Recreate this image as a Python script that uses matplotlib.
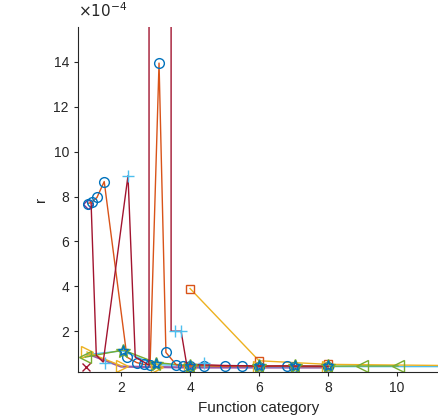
import numpy as np
import matplotlib.pyplot as plt

plt.rcParams['font.family'] = ['Liberation Sans', 'DejaVu Sans']

# colours (MATLAB default order)
c_blue = (0.0, 0.447, 0.741)
c_orange = (0.85, 0.325, 0.098)
c_yellow = (0.929, 0.694, 0.125)
c_purple = (0.494, 0.184, 0.556)
c_green = (0.466, 0.674, 0.188)
c_lblue = (0.301, 0.745, 0.933)
c_red = (0.635, 0.078, 0.184)

# values, r in units of 1e-4
orange_x = [1.04, 1.15, 1.30, 1.51, 2.17, 2.45, 2.65, 2.84, 3.10, 3.30, 3.60, 3.80, 4.0, 4.4, 5.0, 5.5, 6.0, 6.8, 7.0, 8.0]
orange_y = [7.69, 7.75, 7.96, 8.67, 0.84, 0.60, 0.52, 0.49, 13.95, 1.05, 0.50, 0.45, 0.45, 0.46, 0.43, 0.45, 0.42, 0.45, 0.42, 0.42]

red_x = [1.13, 1.28, 1.48, 2.20, 2.41, 2.81, 2.81, 3.45, 3.45, 3.74, 3.90, 5.0, 6.0, 7.0, 8.0]
red_y = [7.69, 0.93, 0.62, 8.93, 0.84, 0.49, 40.0, 40.0, 2.0, 2.0, 0.53, 0.47, 0.45, 0.45, 0.44]

sq_x = [4.0, 6.0, 8.0, 12.0]
sq_y = [3.9, 0.68, 0.52, 0.46]

tri_r_x = [1.01, 2.03, 3.04, 4.0, 6.0, 8.0]
tri_r_y = [1.07, 0.44, 0.40, 0.36, 0.40, 0.40]

dia_x = [1.04]
dia_y = [7.69]

purple_x = [1.10, 2.0, 3.0, 4.0, 5.0, 6.0, 7.0, 8.0]
purple_y = [0.95, 0.42, 0.40, 0.38, 0.38, 0.38, 0.38, 0.38]

green_x = [0.96, 2.06, 3.0, 4.0, 6.0, 7.04, 8.0, 9.0, 10.03]
green_y = [0.84, 1.16, 0.60, 0.46, 0.44, 0.44, 0.44, 0.45, 0.45]

lblue_x = [0.98, 2.03, 3.0, 4.0, 6.0, 8.0, 12.0]
lblue_y = [0.95, 1.12, 0.50, 0.48, 0.42, 0.42, 0.42]

plus_x = [1.54, 2.20, 3.57, 3.75, 4.4]
plus_y = [0.58, 8.93, 2.0, 2.0, 0.60]

star_x = [2.06, 3.0, 4.0, 6.0, 7.04, 8.0]
star_y = [1.10, 0.55, 0.45, 0.44, 0.44, 0.44]

cross_x = [0.99]
cross_y = [0.41]

fig = plt.figure(figsize=(4.39, 4.19), dpi=100)
ax = fig.add_axes([0.1777, 0.1122, 0.8223, 0.8234])

lw = 1.0
ax.plot(purple_x, purple_y, color=c_purple, lw=1.6, alpha=0.8)
ax.plot(dia_x, dia_y, 'D', color=c_purple, mfc='none', ms=5)
ax.plot(lblue_x, lblue_y, color=c_lblue, lw=lw)
ax.plot(sq_x, sq_y, color=c_yellow, lw=lw)
ax.plot(sq_x[:3], sq_y[:3], 's', color=c_orange, mfc='none', ms=6)
ax.plot(tri_r_x, tri_r_y, '>', color=c_yellow, mfc='none', ms=8)
ax.plot(tri_r_x[:2], tri_r_y[:2], color=c_yellow, lw=lw)
ax.plot(green_x, green_y, color=c_green, lw=lw)
ax.plot(green_x[:1] + green_x[-2:], green_y[:1] + green_y[-2:], '<', color=c_green, mfc='none', ms=8)
ax.plot(orange_x, orange_y, color=c_orange, lw=lw)
ax.plot(orange_x, orange_y, 'o', color=c_blue, mfc='none', ms=7)
ax.plot(red_x, red_y, color=c_red, lw=lw)
ax.plot(plus_x, plus_y, '+', color=c_lblue, ms=9, mew=1)
ax.plot(star_x, star_y, '*', color=c_green, mfc='none', ms=10)
ax.plot(star_x, star_y, '*', color=c_blue, mfc='none', ms=8)
ax.plot(cross_x, cross_y, 'x', color=c_red, ms=6)

ax.set_xlim(0.75, 11.22)
ax.set_ylim(0.18, 15.56)
ax.set_xticks([2, 4, 6, 8, 10])
ax.set_yticks([2, 4, 6, 8, 10, 12, 14])

for s in ['top', 'right']:
    ax.spines[s].set_visible(False)
gray = (0.15, 0.15, 0.15)
for s in ['left', 'bottom']:
    ax.spines[s].set_color(gray)
    ax.spines[s].set_linewidth(0.8)
ax.tick_params(direction='out', length=3, width=0.8, colors=gray, labelsize=10)

ax.set_xlabel('Function category', fontsize=11, color=gray)
ax.set_ylabel('r', fontsize=11, color=gray)
ax.text(0.0, 1.02, r'$\times10^{-4}$', transform=ax.transAxes, fontsize=11, color=gray,
        ha='left', va='bottom')

fig.savefig('out.png', dpi=100)
